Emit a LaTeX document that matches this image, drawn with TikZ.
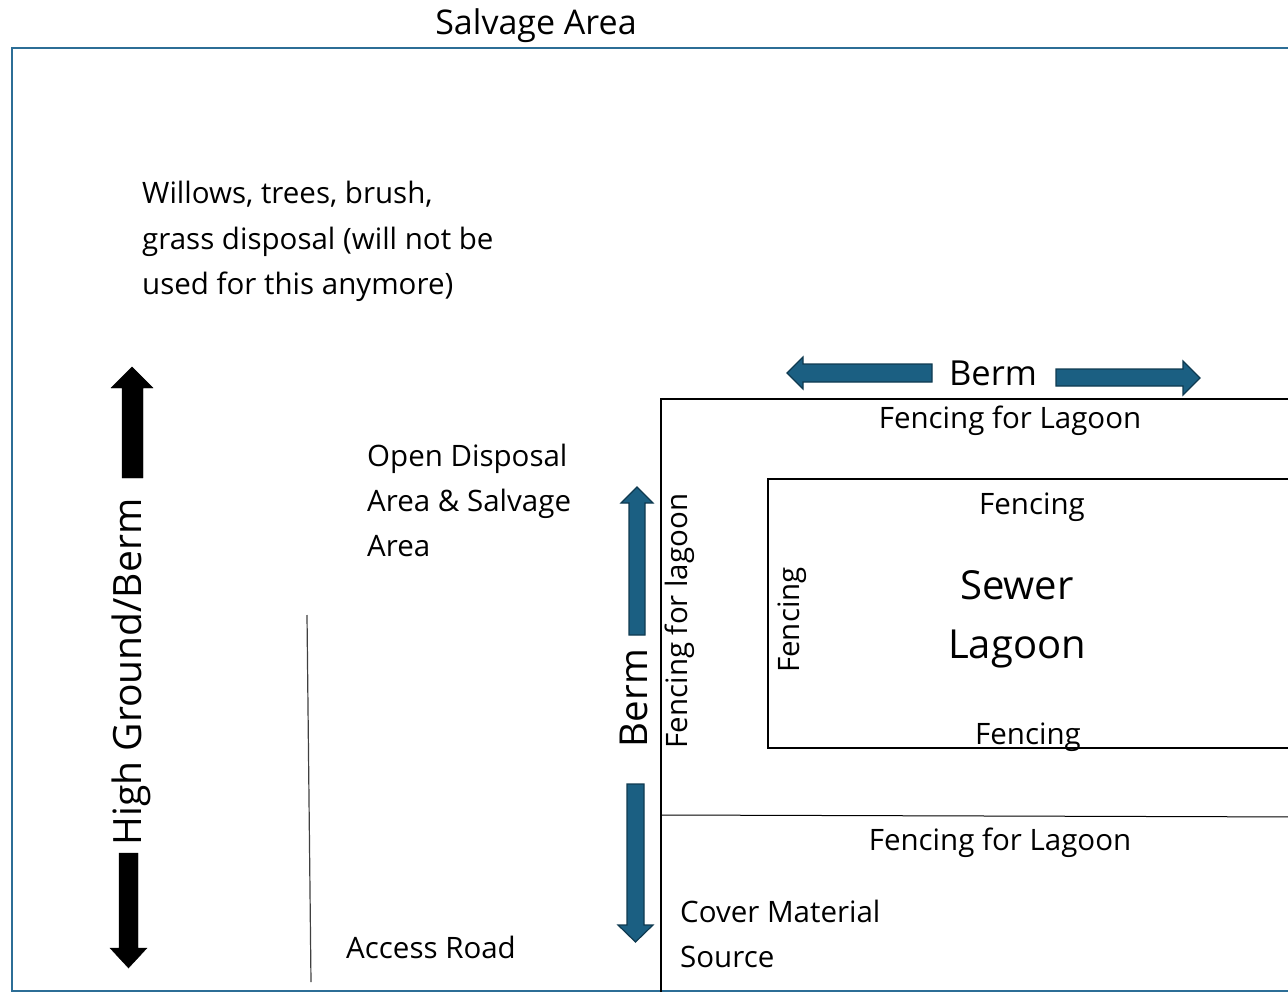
\documentclass[tikz,border=0pt]{standalone}
\usepackage{fontspec}
\setmainfont{Open Sans}
\definecolor{bermblue}{HTML}{1B5F82}
\definecolor{bermedge}{HTML}{0F3A50}
\definecolor{siteline}{HTML}{2C6E96}

\begin{document}
\begin{tikzpicture}[
    x = 1pt, y = -1pt,
    lbl/.style = {inner sep = 0pt, font = \fontsize{29.5}{34}\selectfont},
    bigLbl/.style = {inner sep = 0pt, font = \fontsize{39}{46}\selectfont},
    bermArrow/.style = {fill = bermblue, draw = bermedge, line width = 1.2pt},
    groundArrow/.style = {fill = black, draw = black, line width = 0.4pt}
  ]

  \useasboundingbox (0,0) rectangle (1288,992);
  \clip (0,0) rectangle (1288,992);

  % site boundary
  \draw[siteline, line width = 2pt] (12,48) rectangle (1310,991);
  \node[lbl, font = \fontsize{34}{40}\selectfont] (salvage) at (536,26) {Salvage Area};

  % brush disposal note
  \node[lbl, anchor = mid west] (willows1) at (142,201) {Willows, trees, brush,};
  \node[lbl, anchor = mid west] (willows2) at (142,247) {grass disposal (will not be};
  \node[lbl, anchor = mid west] (willows3) at (142,292) {used for this anymore)};

  % high ground on the west side
  \draw[groundArrow] (122,478) -- (122,388) -- (111,388) -- (132,367) -- (153,388)
    -- (143,388) -- (143,478) -- cycle;
  \draw[groundArrow] (119,853) -- (119,948) -- (110,948) -- (128.5,968) -- (147,948)
    -- (138,948) -- (138,853) -- cycle;
  \node[bigLbl, rotate = 90] (ground) at (131,672) {High Ground/Berm};

  % open disposal and access road
  \node[lbl, anchor = mid west] (open1) at (367,464) {Open Disposal};
  \node[lbl, anchor = mid west] (open2) at (367,509) {Area \& Salvage};
  \node[lbl, anchor = mid west] (open3) at (367,554) {Area};
  \draw[black!75, line width = 1.2pt] (307,615) -- (311,982);
  \node[lbl, anchor = mid west] (road) at (346,956) {Access Road};

  % berm around the lagoon
  \draw[bermArrow] (629,635) -- (629,503) -- (621,503) -- (637,487) -- (653,503)
    -- (645,503) -- (645,635) -- cycle;
  \draw[bermArrow] (627,784) -- (627,925) -- (618,925) -- (635.5,942) -- (653,925)
    -- (644,925) -- (644,784) -- cycle;
  \node[bigLbl, font = \fontsize{38.5}{46}\selectfont, rotate = 90] (bermW) at (634,698) {Berm};
  \draw[bermArrow] (932,364) -- (803,364) -- (803,357) -- (787,373) -- (803,389)
    -- (803,382) -- (932,382) -- cycle;
  \draw[bermArrow] (1056,369) -- (1183,369) -- (1183,361) -- (1200,378) -- (1183,395)
    -- (1183,386) -- (1056,386) -- cycle;
  \node[lbl, font = \fontsize{34.5}{40}\selectfont] (bermN) at (993,373) {Berm};

  % lagoon fence
  \draw[line width = 1.6pt] (661,995) -- (661,399) -- (1310,399);
  \draw[line width = 1pt] (661,815) -- (1310,817);
  \node[lbl] (fenceN) at (1010,421) {Fencing for Lagoon};
  \node[lbl, rotate = 90] (fenceW) at (680,621) {Fencing for lagoon};
  \node[lbl] (fenceS) at (1000,843) {Fencing for Lagoon};

  % sewer lagoon
  \draw[line width = 2pt] (768,479) rectangle (1310,748);
  \node[lbl] (lagoonN) at (1032,507) {Fencing};
  \node[lbl, rotate = 90] (lagoonW) at (792,620) {Fencing};
  \node[lbl] (lagoonS) at (1028,737) {Fencing};
  \node[bigLbl, font = \fontsize{40}{46}\selectfont] (sewer) at (1017,585) {Sewer};
  \node[bigLbl, font = \fontsize{40}{46}\selectfont] (lagoon) at (1017,649) {Lagoon};

  % cover material
  \node[lbl, anchor = mid west] (cover1) at (680,920) {Cover Material};
  \node[lbl, anchor = mid west] (cover2) at (680,965) {Source};

\end{tikzpicture}
\end{document}
